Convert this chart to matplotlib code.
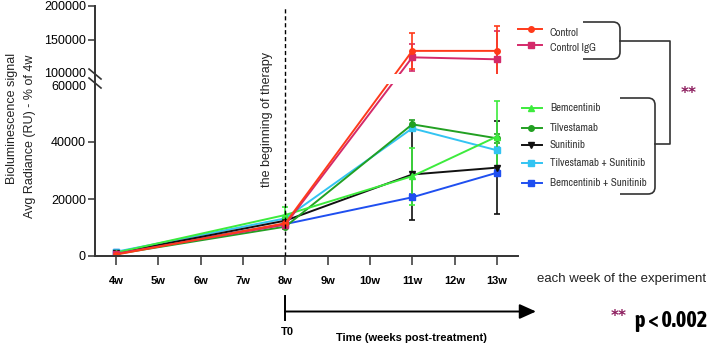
import numpy as np
import matplotlib
matplotlib.use("Agg")
import matplotlib.pyplot as plt
from matplotlib import font_manager
from matplotlib.font_manager import FontProperties
from matplotlib.path import Path
from matplotlib.patches import PathPatch
from matplotlib.lines import Line2D

# ---------------- data ----------------
weeks = [4, 8, 11, 13]
tick_weeks = [4, 5, 6, 7, 8, 9, 10, 11, 12, 13]
tick_labels = ["4w", "5w", "6w", "7w", "8w", "9w", "10w", "11w", "12w", "13w"]

series_names = ["Control", "Control IgG", "Bemcentinib", "Tilvestamab", "Sunitinib",
                "Tilvestamab + Sunitinib", "Bemcentinib + Sunitinib"]
control = [500, 11500, 134000, 134000]
control_igg = [800, 11000, 124500, 121600]
bemcentinib = [1200, 14400, 28000, 41900]
tilvestamab = [700, 10300, 46200, 41300]
sunitinib = [1000, 12400, 28600, 31000]
tilv_sun = [1500, 13200, 44800, 37100]
bemc_sun = [1300, 11200, 20600, 29200]

control_err = [300, 1000, 27000, 37000]
control_igg_err = [300, 1000, 20000, 42000]
bemcentinib_err = [300, 2900, 10000, 12600]
tilvestamab_err = [300, 800, 1500, 1500]
sunitinib_err = [300, 1000, 16000, 16400]
tilv_sun_err = [300, 800, 1000, 1000]
bemc_sun_err = [300, 600, 1000, 1000]

y_ticks = [0, 20000, 40000, 60000, 100000, 150000, 200000]

colors = ["#FF3A1A", "#D42A6A", "#3DEB3D", "#22A022", "#111111", "#33C4F2", "#1F4FF0"]
markers = ["o", "s", "^", "o", "v", "s", "s"]

# ---------------- fonts ----------------
plt.rcParams["font.family"] = ["Liberation Sans", "DejaVu Sans"]
cond_reg = None
cond_bold = None
for f in font_manager.fontManager.ttflist:
    nm = f.name
    is_cond = ("Narrow" in nm or "Condensed" in nm)
    if not is_cond and nm in ("Noto Sans", "Open Sans", "Roboto") and \
            str(f.stretch) in ("condensed", "semi-condensed", "extra-condensed"):
        is_cond = True
    if not is_cond:
        continue
    if f.style != "normal":
        continue
    w = f.weight if isinstance(f.weight, int) else (700 if "bold" in str(f.weight) else 400)
    if w in (400, "normal") and cond_reg is None:
        cond_reg = f.fname
    if w == 700 and cond_bold is None:
        cond_bold = f.fname

if cond_reg:
    leg_fp = dict(fontproperties=FontProperties(fname=cond_reg, size=7.9))
else:
    leg_fp = dict(fontsize=6.6)
if cond_bold:
    p_fp = dict(fontproperties=FontProperties(fname=cond_bold, size=16))
else:
    p_fp = dict(fontsize=12.5, fontweight="bold")
star_fp = dict(fontsize=11, fontweight="bold", family=["DejaVu Sans"])

# ---------------- broken-axis scale ----------------
bp_y = np.array([-1e6, 0, 60000, 100000, 200000, 1e6])
bp_v = np.array([-1e6 * 57 / 20000, 0, 171, 182, 250, 250 + 800000 * 34 / 50000])


def fwd(y):
    return np.interp(y, bp_y, bp_v)


def inv(v):
    return np.interp(v, bp_v, bp_y)


W, H = 709, 347
fig = plt.figure(figsize=(W / 100, H / 100), dpi=100)
ax = fig.add_axes([95 / W, (H - 256) / H, (518 - 95) / W, 250 / H])
ax.set_yscale("function", functions=(fwd, inv))
ax.set_xlim(3.5, 13.5)
ax.set_ylim(0, 200000)

data = [control, control_igg, bemcentinib, tilvestamab, sunitinib, tilv_sun, bemc_sun]
errs = [control_err, control_igg_err, bemcentinib_err, tilvestamab_err, sunitinib_err,
        tilv_sun_err, bemc_sun_err]
order = [6, 5, 4, 3, 2, 1, 0]
for i in order:
    ax.errorbar(weeks, data[i], yerr=errs[i], color=colors[i], marker=markers[i],
                markersize=4, lw=1.4, capsize=2.5, elinewidth=1.2, capthick=1.2, zorder=2)

# white gap for the break
ax.axhspan(62000, 100000, xmin=0.006, xmax=1, color="white", zorder=2.3, lw=0)

ax.axvline(8, ymax=0.992, color="black", lw=1, ls=(0, (3, 2)), zorder=3)

for s in ["top", "right"]:
    ax.spines[s].set_visible(False)
for s in ["left", "bottom"]:
    ax.spines[s].set_linewidth(1.4)
    ax.spines[s].set_color("#333333")

ax.set_xticks(tick_weeks)
ax.set_xticklabels(tick_labels, fontweight="bold", fontsize=8)
ax.set_yticks(y_ticks)
ax.set_yticklabels([str(v) for v in y_ticks], fontsize=9)
ax.yaxis.set_minor_locator(matplotlib.ticker.NullLocator())
ax.tick_params(axis="x", length=6.5, width=1.1, color="#333333", pad=8)
ax.tick_params(axis="y", length=5, width=1.1, color="#333333", pad=1.5)
for t in ax.yaxis.get_major_ticks():
    if t.get_loc() in (60000, 100000):
        t.tick1line.set_visible(False)
for lab in ax.get_yticklabels():
    if lab.get_text() == "100000":
        lab.set_va("center")
    if lab.get_text() == "60000":
        lab.set_va("center_baseline")

# ---------------- overlay (pixel coords) ----------------
ov = fig.add_axes([0, 0, 1, 1], zorder=5)
ov.set_xlim(0, W)
ov.set_ylim(H, 0)
ov.axis("off")
ov.patch.set_visible(False)

# break marks
for y0 in (69, 78):
    ov.plot([89, 101], [y0, y0 + 10], color="#333333", lw=1.2)

ov.text(12, 118, "Bioluminescence signal", rotation=90, ha="center", va="center", fontsize=9,
        color="#222222")
ov.text(30, 136, "Avg Radiance (RU) - % of 4w", rotation=90, ha="center", va="center",
        fontsize=9, color="#222222")
ov.text(267, 119, "the beginning of therapy", rotation=90, ha="center", va="center",
        fontsize=9, color="#222222")

ov.text(537, 279, "each week of the experiment", ha="left", va="center", fontsize=9.5,
        color="#222222")

# T0 arrow
ov.plot([285, 285], [296, 320], color="black", lw=1.4)
ov.annotate("", xy=(536, 311.5), xytext=(285, 311.5),
            arrowprops=dict(arrowstyle="-|>,head_length=1.0,head_width=0.45", color="black",
                            lw=1.4, shrinkA=0, shrinkB=0))
ov.text(287, 332, "T0", ha="center", va="center", fontsize=8, fontweight="bold")
ov.text(411, 338, "Time (weeks post-treatment)", ha="center", va="center", fontsize=8,
        fontweight="bold")

# p value
ov.text(619, 316, "**", ha="center", va="center", color="#8B1A5C", **star_fp)
ov.text(707, 327, "p < 0.002", ha="right", va="baseline", color="black", **p_fp)

# legend
leg_rows = [(28.5, 33), (44.5, 48), (108, 108), (127.5, 127.5), (144.5, 145), (162.5, 163),
            (182.5, 182.5)]
for i, name in enumerate(series_names):
    my, ty = leg_rows[i]
    x0 = 518 if i < 2 else 522
    ov.add_line(Line2D([x0, 542], [my, my], color=colors[i], lw=1.4))
    ov.plot([531], [my], marker=markers[i], color=colors[i], markersize=4)
    ov.text(550, ty, name, ha="left", va="center", color="#333333", **leg_fp)


def brace(x0, x1, ytop, ybot):
    r = 7
    verts = [(x0, ytop), (x1 - r, ytop), (x1, ytop), (x1, ytop + r), (x1, ybot - r),
             (x1, ybot), (x1 - r, ybot), (x0, ybot)]
    codes = [Path.MOVETO, Path.LINETO, Path.CURVE3, Path.CURVE3, Path.LINETO,
             Path.CURVE3, Path.CURVE3, Path.LINETO]
    ov.add_patch(PathPatch(Path(verts, codes), fill=False, lw=1.2, edgecolor="#333333"))


brace(583, 620, 22, 59)
brace(620, 655, 98, 194)
ov.plot([620, 670, 670, 655], [41, 41, 144, 144], color="#333333", lw=1.2)
ov.text(689, 93, "**", ha="center", va="center", color="#8B1A5C", **star_fp)

fig.savefig("out.png", dpi=100)
